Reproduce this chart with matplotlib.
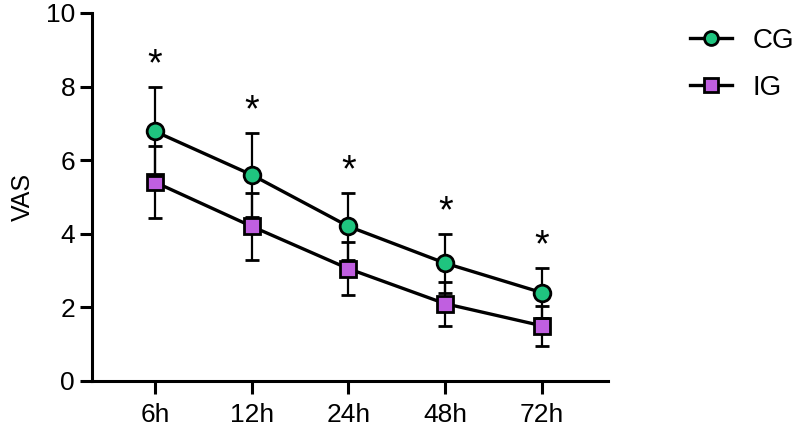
import matplotlib
matplotlib.use("Agg")
import matplotlib.pyplot as plt
from matplotlib.lines import Line2D

plt.rcParams['font.family'] = ['Liberation Sans', 'DejaVu Sans']

times = ['6h', '12h', '24h', '48h', '72h']
cg_mean = [6.78, 5.60, 4.20, 3.20, 2.40]
cg_sd = [1.22, 1.15, 0.92, 0.80, 0.68]
ig_mean = [5.40, 4.20, 3.05, 2.10, 1.50]
ig_sd = [0.98, 0.90, 0.72, 0.60, 0.55]
stars = ['*', '*', '*', '*', '*']

green = '#1FC47F'
purple = '#C05FE0'

fig = plt.figure(figsize=(8, 4.3), dpi=100)
ax = fig.add_axes([0.1146, 0.114, 0.645, 0.856])

x = list(range(len(times)))

ax.errorbar(x, ig_mean, yerr=ig_sd, color='black', lw=2.4, marker='s',
            ms=11.5, mfc=purple, mec='black', mew=2.0, ecolor='black',
            elinewidth=1.6, capsize=5, capthick=1.6, zorder=3)
ax.errorbar(x, cg_mean, yerr=cg_sd, color='black', lw=2.4, marker='o',
            ms=12, mfc=green, mec='black', mew=2.0, ecolor='black',
            elinewidth=1.6, capsize=5, capthick=1.6, zorder=4)

for xi, m, s, st in zip(x, cg_mean, cg_sd, stars):
    ax.text(xi, m + s + 0.3, st, ha='center', va='baseline', fontsize=27)

ax.set_xlim(-0.655, 4.68)
ax.set_ylim(0, 10)
ax.set_xticks(x)
ax.set_xticklabels(times)
ax.set_yticks([0, 2, 4, 6, 8, 10])
ax.set_ylabel('VAS', fontsize=18, labelpad=8)

for side in ['top', 'right']:
    ax.spines[side].set_visible(False)
for side in ['left', 'bottom']:
    ax.spines[side].set_linewidth(2.2)
ax.spines['bottom'].set_zorder(5)
ax.tick_params(axis='both', width=2.2, length=9, labelsize=19)
ax.tick_params(axis='x', pad=7)
ax.tick_params(axis='y', pad=3)

handles = [
    Line2D([], [], color='black', lw=2.4, marker='o', ms=10, mfc=green,
           mec='black', mew=2.0),
    Line2D([], [], color='black', lw=2.4, marker='s', ms=10.5, mfc=purple,
           mec='black', mew=2.0),
]
fig.legend(handles, ['CG', 'IG'], loc='upper left',
           bbox_to_anchor=(0.8625, 0.935), frameon=False, fontsize=20,
           handlelength=1.5, handletextpad=0.75, labelspacing=0.75,
           borderpad=0, borderaxespad=0)

fig.savefig('out.png', dpi=100)
